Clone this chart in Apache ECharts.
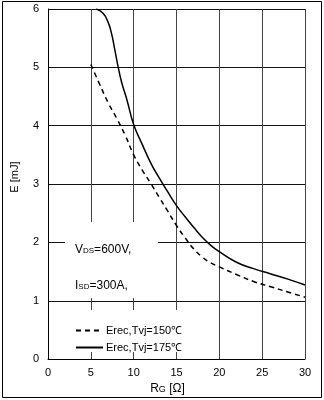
<!DOCTYPE html>
<html>
<head>
<meta charset="utf-8">
<script src="https://cdn.jsdelivr.net/npm/echarts@6/dist/echarts.min.js"></script>
<style>
html,body{margin:0;padding:0;background:#fff;}
#chart{width:324px;height:400px;}
</style>
</head>
<body>
<div id="chart"></div>
<script>
// Erec vs Rg
var rg150 = [5, 6, 7, 8, 9, 10, 11, 12, 13, 14, 15, 16, 17, 18, 19, 20, 22, 24, 26, 28, 30];
var erec150 = [5.05, 4.72, 4.40, 4.13, 3.84, 3.50, 3.24, 3.01, 2.77, 2.53, 2.29, 2.08, 1.89, 1.75, 1.65, 1.58, 1.45, 1.33, 1.24, 1.15, 1.06];
var rg175 = [5.62, 6.4, 7.0, 7.4, 7.8, 8.2, 8.6, 9.2, 10.0, 11, 12, 13, 14, 15, 16, 17, 18, 19, 20, 22, 24, 26, 28, 30];
var erec175 = [6.0, 5.93, 5.78, 5.59, 5.30, 5.0, 4.74, 4.45, 4.02, 3.68, 3.36, 3.10, 2.86, 2.63, 2.44, 2.26, 2.09, 1.95, 1.84, 1.66, 1.55, 1.46, 1.37, 1.27];
var seriesNames = ['Erec,Tvj=150℃', 'Erec,Tvj=175℃'];

function pairs(xs, ys) {
  var out = [];
  for (var i = 0; i < xs.length; i++) out.push([xs[i], ys[i]]);
  return out;
}

var font = '"Liberation Sans", Arial, sans-serif';
var chart = echarts.init(document.getElementById('chart'));

chart.setOption({
  animation: false,
  backgroundColor: '#fff',
  grid: {left: 48, right: 19, top: 9, bottom: 38},
  xAxis: {
    type: 'value', min: 0, max: 30, interval: 5,
    name: '{a|R}{b|G}{a| [Ω]}',
    nameLocation: 'middle', nameGap: 18,
    nameTextStyle: {
      padding: [0, 18, 0, 0],
      rich: {
        a: {fontSize: 12, fontFamily: font, color: '#000'},
        b: {fontSize: 9, fontFamily: font, color: '#000', padding: [2, 0, 0, 0]}
      }
    },
    axisLine: {lineStyle: {color: '#000', width: 1}},
    axisTick: {show: false},
    axisLabel: {color: '#000', fontSize: 11, fontFamily: font, margin: 8},
    splitLine: {lineStyle: {color: '#444', width: 1}}
  },
  yAxis: {
    type: 'value', min: 0, max: 6, interval: 1,
    name: 'E [mJ]',
    nameLocation: 'middle', nameGap: 28,
    nameTextStyle: {color: '#000', fontSize: 11, fontFamily: font, padding: [0, 0, 0, 14]},
    axisLine: {show: true, lineStyle: {color: '#000', width: 1}},
    axisTick: {show: false},
    axisLabel: {color: '#000', fontSize: 11, fontFamily: font, margin: 9},
    splitLine: {lineStyle: {color: '#111', width: 1}}
  },
  legend: {
    orient: 'vertical', left: 70, top: 320,
    itemWidth: 27, itemHeight: 10, itemGap: 6,
    itemStyle: {opacity: 0},
    textStyle: {color: '#000', fontSize: 11, fontFamily: font, padding: [0, 0, 0, -2]},
    data: seriesNames
  },
  series: [
    {
      name: seriesNames[0], type: 'line', smooth: true, symbol: 'none',
      lineStyle: {color: '#000', width: 1.5, type: [5, 4]},
      itemStyle: {color: '#000'},
      data: pairs(rg150, erec150)
    },
    {
      name: seriesNames[1], type: 'line', smooth: true, symbol: 'none',
      lineStyle: {color: '#000', width: 1.5},
      itemStyle: {color: '#000'},
      data: pairs(rg175, erec175)
    }
  ],
  graphic: [
    {type: 'rect', z: 1, shape: {x: 65, y: 222, width: 93, height: 76}, style: {fill: '#fff'}},
    {type: 'rect', z: 1, shape: {x: 65, y: 310, width: 114, height: 42}, style: {fill: '#fff'}},
    {
      type: 'text', z: 5, x: 75, y: 250,
      style: {
        text: '{a|V}{b|DS}{a|=600V,}', verticalAlign: 'middle',
        rich: {
          a: {fontSize: 12, fontFamily: font, fill: '#000'},
          b: {fontSize: 8, fontFamily: font, fill: '#000', padding: [1, 0, 0, 0]}
        }
      }
    },
    {
      type: 'text', z: 5, x: 75, y: 286,
      style: {
        text: '{a|I}{b|SD}{a|=300A,}', verticalAlign: 'middle',
        rich: {
          a: {fontSize: 12, fontFamily: font, fill: '#000'},
          b: {fontSize: 8, fontFamily: font, fill: '#000', padding: [1, 0, 0, 0]}
        }
      }
    },
    {type: 'rect', z: 6, shape: {x: 2.5, y: 1.5, width: 319, height: 396}, style: {fill: 'none', stroke: '#000', lineWidth: 1}}
  ]
});
</script>
</body>
</html>
